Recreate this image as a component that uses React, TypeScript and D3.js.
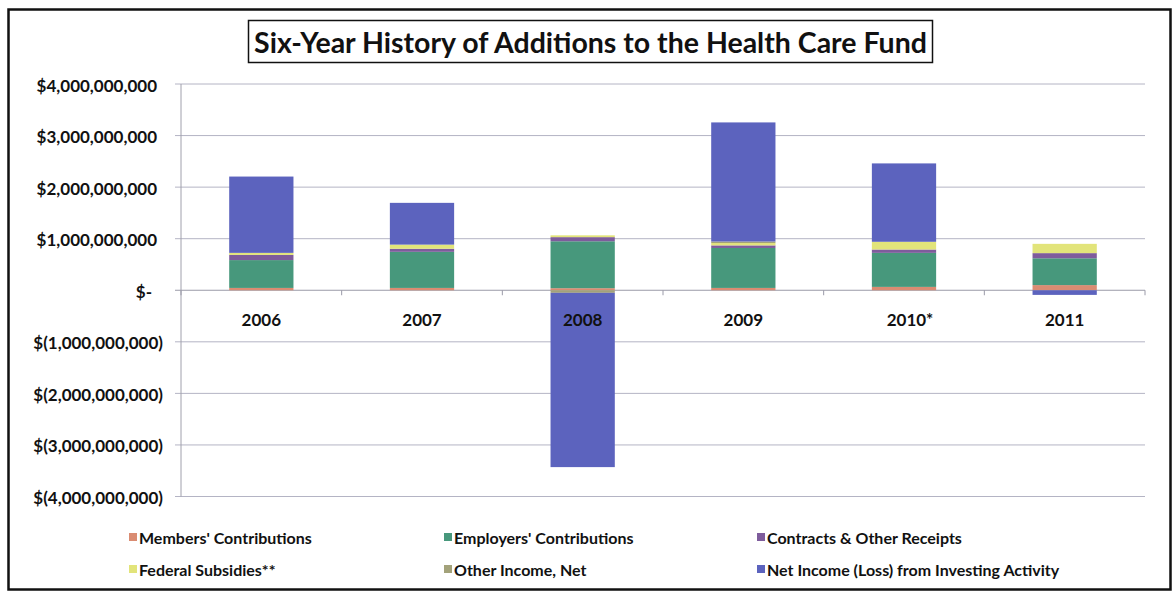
import React from "react";
import * as d3 from "d3";

const years = ["2006", "2007", "2008", "2009", "2010*", "2011"];
const seriesNames = [
  "Members' Contributions",
  "Employers' Contributions",
  "Contracts & Other Receipts",
  "Federal Subsidies**",
  "Other Income, Net",
  "Net Income (Loss) from Investing Activity",
];
// values in billions of dollars
const members = [0.045, 0.045, 0.04, 0.045, 0.065, 0.1];
const employers = [0.54, 0.7, 0.91, 0.775, 0.66, 0.52];
const contracts = [0.1, 0.06, 0.08, 0.05, 0.065, 0.1];
const federal = [0.04, 0.08, 0.035, 0.045, 0.15, 0.18];
const otherIncome = [0, 0, -0.05, 0.03, 0, 0];
const netInvesting = [1.48, 0.81, -3.38, 2.31, 1.52, -0.09];
const yTicks = [4, 3, 2, 1, 0, -1, -2, -3, -4];
const title = "Six-Year History of Additions to the Health Care Fund";

const colors = ["#DA8C72", "#47987C", "#7E5C9C", "#E2E47A", "#A3A27A", "#5C63BE"];

const W = 1176;
const H = 592;
const plotL = 181;
const plotR = 1145;
const yTop = 84;
const yBot = 496.5;
const FONT = "Lato, 'Open Sans', sans-serif";

function fmt(v: number) {
  if (v === 0) return "$-";
  const s = d3.format(",")(Math.abs(v * 1e9));
  return v < 0 ? `$(${s})` : `$${s}`;
}

export default function App() {
  const seriesArrays = [members, employers, contracts, federal, otherIncome, netInvesting];
  const table = years.map((y, i) => {
    const row: any = { year: y };
    seriesNames.forEach((n, k) => (row[n] = seriesArrays[k][i] * 1e9));
    return row;
  });
  const stacked = d3
    .stack<any>()
    .keys(seriesNames)
    .offset(d3.stackOffsetDiverging)(table);

  const x = d3
    .scaleBand<string>()
    .domain(years)
    .range([plotL, plotR])
    .paddingInner(0.6)
    .paddingOuter(0.3);
  const y = d3.scaleLinear().domain([-4e9, 4e9]).range([yBot, yTop]);
  const step = x.step();
  const boundaries = d3.range(years.length + 1).map((i) => plotL + i * step);

  const legendCols = [129, 444, 757];
  const legendRows = [537, 569];

  return (
    <svg
      width={W}
      height={H}
      style={{ position: "absolute", left: 0, top: 0, background: "#fff" }}
      fontFamily={FONT}
    >
      <rect x={0} y={0} width={W} height={H} fill="#fff" />
      <rect x={8.5} y={9.5} width={1162} height={580} fill="none" stroke="#111" strokeWidth={2.5} />

      {/* title */}
      <rect x={248.5} y={20.5} width={684} height={42} fill="#fff" stroke="#111" strokeWidth={1.5} />
      <text x={590.5} y={42} textAnchor="middle" dominantBaseline="central" fontSize={28.5} fontWeight={700} fill="#111">
        {title}
      </text>

      {/* gridlines */}
      {yTicks.map((t) => (
        <g key={t}>
          <line x1={175} x2={plotR} y1={y(t * 1e9)} y2={y(t * 1e9)} stroke={t === 0 ? "#9a9aa8" : "#b4b4c4"} strokeWidth={1} />
          <text
            x={t < 0 ? 163 : t === 0 ? 152 : 157}
            y={y(t * 1e9) + 1}
            textAnchor="end"
            dominantBaseline="central"
            fontSize={17}
            fontWeight={700}
            fill="#111"
          >
            {fmt(t)}
          </text>
        </g>
      ))}
      <line x1={plotL} x2={plotL} y1={yTop} y2={yBot} stroke="#a0a0ac" strokeWidth={1} />

      {/* bars */}
      {stacked.map((s, k) => (
        <g key={s.key} fill={colors[k]}>
          {s.map((d, i) => {
            const y0 = y(d[0]);
            const y1 = y(d[1]);
            const h = Math.abs(y0 - y1);
            if (h < 0.01) return null;
            return <rect key={i} x={x(years[i])} y={Math.min(y0, y1)} width={x.bandwidth()} height={h} />;
          })}
        </g>
      ))}

      {/* category ticks */}
      {boundaries.map((b, i) => (
        <line key={i} x1={b} x2={b} y1={y(0)} y2={y(0) + 5} stroke="#9a9aa8" strokeWidth={1} />
      ))}

      {/* category labels */}
      {years.map((yr) => (
        <text
          key={yr}
          x={(x(yr) as number) + x.bandwidth() / 2 + (yr.endsWith("*") ? 6 : 0)}
          y={319}
          textAnchor="middle"
          dominantBaseline="central"
          fontSize={17}
          fontWeight={700}
          fill="#111"
        >
          {yr}
        </text>
      ))}

      {/* legend */}
      {seriesNames.map((n, k) => {
        const cx = legendCols[k % 3];
        const cy = legendRows[Math.floor(k / 3)];
        return (
          <g key={n}>
            <rect x={cx} y={cy - 4} width={8} height={8} fill={colors[k]} />
            <text x={cx + 10} y={cy} dominantBaseline="central" fontSize={16} fontWeight={700} fill="#111">
              {n}
            </text>
          </g>
        );
      })}
    </svg>
  );
}
